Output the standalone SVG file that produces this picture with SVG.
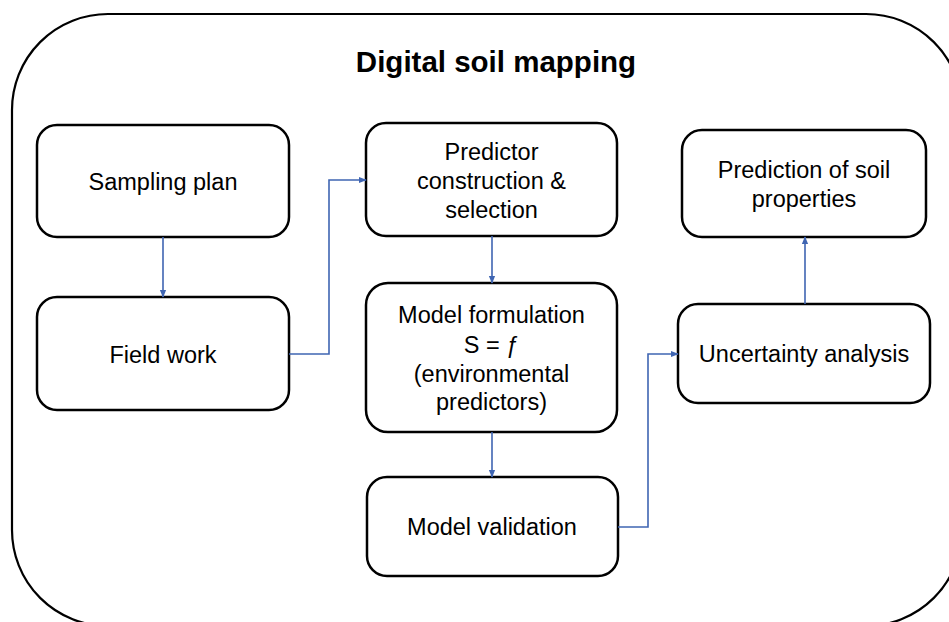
<svg xmlns="http://www.w3.org/2000/svg" width="949" height="622" viewBox="0 0 949 622">
  <style>
    .frame { fill: #ffffff; stroke: #000000; stroke-width: 2.2; }
    .box { fill: #ffffff; stroke: #000000; stroke-width: 2.5; }
    .label { font-family: "Liberation Sans", Arial, sans-serif; font-size: 23.5px; fill: #000000; text-anchor: middle; }
    .title { font-family: "Liberation Sans", Arial, sans-serif; font-size: 29.5px; font-weight: bold; fill: #000000; text-anchor: middle; }
    .link { fill: none; stroke: #3f65b2; stroke-width: 1.6; marker-end: url(#arrow); }
  </style>
  <defs>
    <marker id="arrow" viewBox="0 0 10 10" refX="9" refY="5" markerWidth="5" markerHeight="5" orient="auto" markerUnits="strokeWidth">
      <path d="M0,1 L10,5 L0,9 z" fill="#3f65b2"/>
    </marker>
  </defs>

  <rect width="949" height="622" fill="#ffffff"/>

  <!-- outer frame -->
  <g id="frame">
    <rect class="frame" x="12" y="14" width="950" height="612" rx="96" ry="96"/>
    <text class="title" x="496" y="72">Digital soil mapping</text>
  </g>

  <!-- workflow steps -->
  <g id="sampling-plan">
    <rect class="box" x="37" y="125" width="252" height="112" rx="20"/>
    <text class="label" x="163" y="190">Sampling plan</text>
  </g>
  <g id="field-work">
    <rect class="box" x="37" y="297" width="252" height="113" rx="20"/>
    <text class="label" x="163" y="363">Field work</text>
  </g>
  <g id="predictor-construction">
    <rect class="box" x="366" y="123" width="251" height="113" rx="20"/>
    <text class="label" x="491.5" y="160">Predictor</text>
    <text class="label" x="491.5" y="189">construction &amp;</text>
    <text class="label" x="491.5" y="218">selection</text>
  </g>
  <g id="model-formulation">
    <rect class="box" x="366" y="283" width="251" height="149" rx="22"/>
    <text class="label" x="491.5" y="323">Model formulation</text>
    <text class="label" x="491.5" y="353">S = ƒ</text>
    <text class="label" x="491.5" y="382">(environmental</text>
    <text class="label" x="491.5" y="410">predictors)</text>
  </g>
  <g id="model-validation">
    <rect class="box" x="367" y="477" width="251" height="99" rx="20"/>
    <text class="label" x="492" y="535">Model validation</text>
  </g>
  <g id="uncertainty-analysis">
    <rect class="box" x="678" y="304" width="252" height="99" rx="20"/>
    <text class="label" x="804" y="362">Uncertainty analysis</text>
  </g>
  <g id="prediction">
    <rect class="box" x="682" y="130" width="244" height="107" rx="20"/>
    <text class="label" x="804" y="178">Prediction of soil</text>
    <text class="label" x="804" y="207">properties</text>
  </g>

  <!-- connectors -->
  <g id="connectors">
    <path class="link" d="M163,237 V297"/>
    <path class="link" d="M289,354 H329 V180 H366"/>
    <path class="link" d="M492,236 V283"/>
    <path class="link" d="M492,432 V477"/>
    <path class="link" d="M618,527 H648 V354 H678"/>
    <path class="link" d="M805,304 V237"/>
  </g>
</svg>
